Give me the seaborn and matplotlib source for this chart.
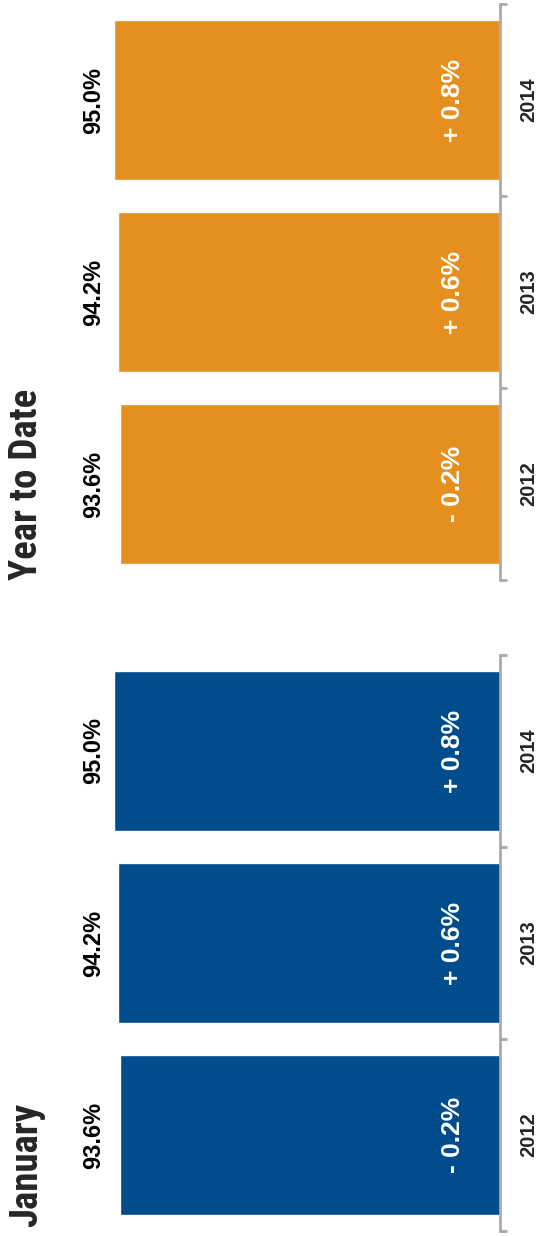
import matplotlib
matplotlib.use('Agg')
import matplotlib.pyplot as plt
import seaborn as sns
import pandas as pd

sns.set_style('white')
plt.rcParams['font.family'] = ['Liberation Sans', 'DejaVu Sans']

# chart data
years = ['2012', '2013', '2014']
january_pct = [93.6, 94.2, 95.0]
ytd_pct = [93.6, 94.2, 95.0]
january_change = ['- 0.2%', '+ 0.6%', '+ 0.8%']
ytd_change = ['- 0.2%', '+ 0.6%', '+ 0.8%']

W, H = 539, 1236
fig = plt.figure(figsize=(W / 100, H / 100), dpi=100)


def panel(box, values, changes, color, title, title_y):
    # box in pixels: left, top, right, bottom
    left, top, right, bottom = box
    ax = fig.add_axes([left / W, 1 - bottom / H, (right - left) / W, (bottom - top) / H])
    df = pd.DataFrame({'year': years, 'pct': values, 'change': changes})
    order = years[::-1]
    sns.barplot(data=df, y='year', x='pct', order=order, orient='h', color=color,
                saturation=1, width=0.833, ax=ax)
    ax.set_xlim(100, 0)
    ax.set_ylim(2.5, -0.5)
    ax.set_xlabel('')
    ax.set_ylabel('')
    ax.set_xticks([])

    for s in ['top', 'left', 'bottom']:
        ax.spines[s].set_visible(False)
    ax.spines['right'].set_color('#aaaaaa')
    ax.spines['right'].set_linewidth(2)

    ax.yaxis.tick_right()
    ax.set_yticks([-0.5, 0.5, 1.5, 2.5], minor=True)
    ax.tick_params(axis='y', which='major', length=0, pad=14, labelsize=14.5)
    ax.tick_params(axis='y', which='minor', length=5, width=2, color='#aaaaaa',
                   right=True, left=False)
    for lbl in ax.get_yticklabels():
        lbl.set_rotation(90)
        lbl.set_va('center')
        lbl.set_fontweight('bold')

    for i, yr in enumerate(order):
        row = df[df['year'] == yr].iloc[0]
        ax.text(100, i, f"{row['pct']:.1f}%", rotation=90, ha='center', va='center',
                fontsize=17, fontweight='bold', color='black', clip_on=False)
        ax.text(11.6, i, row['change'], rotation=90, ha='center', va='center',
                fontsize=19, fontweight='bold', color='white')

    fig.text(8 / W, 1 - title_y / H, title, rotation=90, ha='left', va='bottom',
             fontsize=28, fontweight='black',
             family=['Roboto Condensed', 'DejaVu Sans'])
    return ax


panel((94, 4, 500, 580), ytd_pct, ytd_change, '#E5901E', 'Year to Date', 580)
panel((94, 655, 500, 1231), january_pct, january_change, '#004C8D', 'January', 1227)

fig.savefig('out.png', dpi=100)
